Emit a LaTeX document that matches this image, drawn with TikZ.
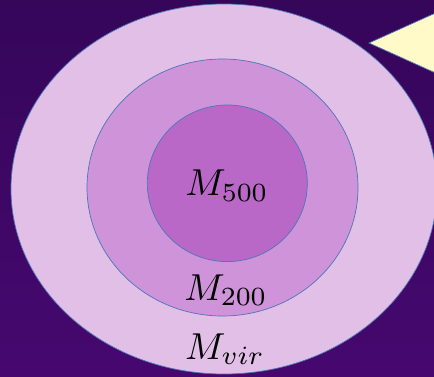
\documentclass[tikz,border=0pt]{standalone}
\usetikzlibrary{shapes.geometric}
\definecolor{bgtop}{HTML}{35065A}
\definecolor{bgbot}{HTML}{46086F}
\definecolor{ringA}{HTML}{E1BFE7}
\definecolor{ringB}{HTML}{CE93D8}
\definecolor{ringC}{HTML}{BA68C8}
\definecolor{edge}{HTML}{4A78B4}
\definecolor{callfill}{HTML}{FFFAC8}
\tikzset{
  ring/.style={draw=edge, line width=0.7pt},
  masslabel/.style={inner sep=0pt, scale=3.75, text=black}
}
\begin{document}
\begin{tikzpicture}[x=1pt,y=-1pt]
\shade[top color=bgtop, bottom color=bgbot] (0,0) rectangle (434,377);
\useasboundingbox (0,0) rectangle (434,377);
\draw[ring, fill=ringA] (224,189) ellipse [x radius=213pt, y radius=185pt];
\draw[ring, fill=ringB] (222.5,187.5) ellipse [x radius=135.5pt, y radius=128.5pt];
\draw[ring, fill=ringC] (227.3,183.3) ellipse [x radius=80pt, y radius=78.3pt];
\draw[draw=edge, line width=0.7pt, fill=callfill] (369,43) -- (440,11) -- (440,75) -- cycle;
\node[masslabel] (m500) at (227,186) {$M_{500}$};
\node[masslabel] (m200) at (226,290) {$M_{200}$};
\node[masslabel] (mvir) at (225,349) {$M_{vir}$};
\end{tikzpicture}
\end{document}
